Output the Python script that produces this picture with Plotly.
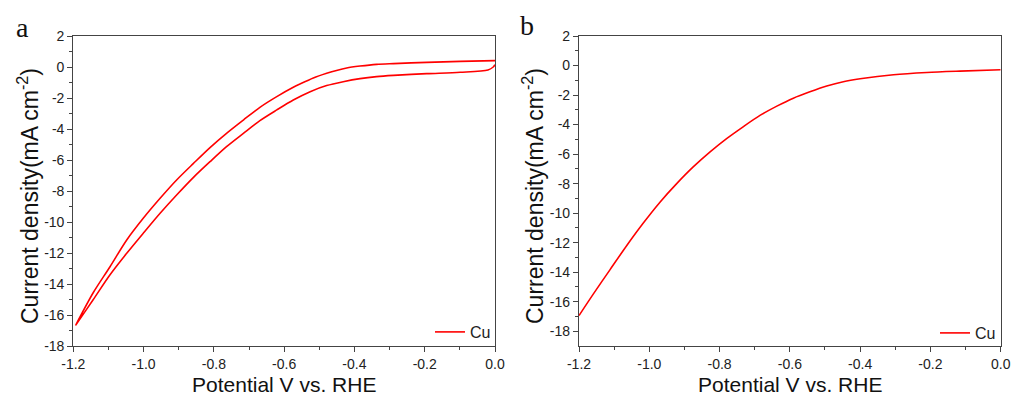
import plotly.graph_objects as go

# Panel a: cyclic voltammogram (cathodic sweep then return sweep)
pot_a_fwd = [0.0, -0.005, -0.02, -0.099, -0.194, -0.289, -0.337, -0.384, -0.432, -0.479,
             -0.526, -0.574, -0.621, -0.669, -0.716, -0.764, -0.811, -0.858, -0.906,
             -0.953, -1.001, -1.048, -1.096, -1.143, -1.193]
cur_a_fwd = [0.15, 0.0, -0.19, -0.34, -0.43, -0.54, -0.62, -0.75, -0.95, -1.20,
             -1.59, -2.13, -2.77, -3.46, -4.28, -5.14, -6.11, -7.12, -8.26,
             -9.44, -10.73, -12.02, -13.42, -15.0, -16.65]
pot_a_rev = [-1.193, -1.143, -1.096, -1.048, -1.001, -0.953, -0.906, -0.858, -0.811,
             -0.764, -0.716, -0.669, -0.621, -0.574, -0.555, -0.517, -0.479, -0.451,
             -0.422, -0.384, -0.337, -0.289, -0.194, -0.099, 0.0]
cur_a_rev = [-16.65, -14.55, -12.9, -11.16, -9.76, -8.47, -7.29, -6.22, -5.20,
             -4.28, -3.42, -2.60, -1.91, -1.31, -1.10, -0.71, -0.41, -0.22,
             -0.06, 0.06, 0.17, 0.22, 0.30, 0.36, 0.41]

# Panel b: linear sweep
pot_b = [-1.2, -1.159, -1.112, -1.064, -1.017, -0.969, -0.922, -0.875, -0.827, -0.780,
         -0.733, -0.685, -0.637, -0.590, -0.543, -0.495, -0.448, -0.400, -0.305,
         -0.210, -0.116, 0.0]
cur_b = [-16.94, -15.47, -13.84, -12.19, -10.67, -9.24, -8.00, -6.87, -5.85, -4.95,
         -4.15, -3.38, -2.75, -2.21, -1.78, -1.39, -1.10, -0.90, -0.62,
         -0.47, -0.38, -0.29]

x_ticks = [-1.2, -1.0, -0.8, -0.6, -0.4, -0.2, 0.0]
x_ticktext = ["-1.2", "-1.0", "-0.8", "-0.6", "-0.4", "-0.2", "0.0"]
x_minor = [-1.1, -0.9, -0.7, -0.5, -0.3, -0.1]
y_ticks = [2, 0, -2, -4, -6, -8, -10, -12, -14, -16, -18]
y_ticktext = ["2", "0", "-2", "-4", "-6", "-8", "-10", "-12", "-14", "-16", "-18"]
y_minor = [1, -1, -3, -5, -7, -9, -11, -13, -15, -17]
series_name = "Cu"

RED = "#ff0000"
AX = "#444444"
W, H = 1012, 396
TICKFONT = dict(family="Arial, Liberation Sans", size=14, color="#222")

fig = go.Figure()
fig.add_trace(go.Scatter(x=pot_a_fwd + pot_a_rev, y=cur_a_fwd + cur_a_rev, mode="lines",
                         line=dict(color=RED, width=1.6, shape="spline", smoothing=0.8),
                         name=series_name, showlegend=True,
                         xaxis="x", yaxis="y", legend="legend"))
fig.add_trace(go.Scatter(x=pot_b, y=cur_b, mode="lines",
                         line=dict(color=RED, width=1.6, shape="spline", smoothing=0.8),
                         name=series_name, showlegend=True,
                         xaxis="x2", yaxis="y2", legend="legend2"))

def xax(domain, anchor):
    return dict(domain=domain, anchor=anchor, range=[-1.2, 0.0], tickmode="array",
                tickvals=x_ticks, ticktext=x_ticktext, ticks="outside", ticklen=5,
                tickcolor=AX, showline=True, linecolor=AX, linewidth=1.2, mirror=True,
                showgrid=False, zeroline=False, automargin=False, tickfont=TICKFONT,
                minor=dict(tickvals=x_minor, ticks="outside", ticklen=3, tickcolor=AX,
                           showgrid=False))

def yax(domain, anchor, rng):
    return dict(domain=domain, anchor=anchor, range=rng, tickmode="array",
                tickvals=y_ticks, ticktext=y_ticktext, ticks="outside", ticklen=5,
                tickcolor=AX, showline=True, linecolor=AX, linewidth=1.2, mirror=True,
                showgrid=False, zeroline=False, automargin=False, tickfont=TICKFONT,
                minor=dict(tickvals=y_minor, ticks="outside", ticklen=3, tickcolor=AX,
                           showgrid=False))

ydom = [50 / H, 360 / H]
legfont = dict(family="Arial, Liberation Sans", size=16, color="#222")
fig.update_layout(
    width=W, height=H, margin=dict(l=0, r=0, t=0, b=0, autoexpand=False),
    paper_bgcolor="white", plot_bgcolor="white", showlegend=True,
    xaxis=xax([73.3 / W, 495 / W], "y"),
    yaxis=yax(ydom, "x", [-18, 2]),
    xaxis2=xax([579 / W, 1000.7 / W], "y2"),
    yaxis2=yax(ydom, "x2", [-19, 2]),
    legend=dict(x=430 / W, y=(H - 332) / H, xanchor="left", yanchor="middle",
                bgcolor="rgba(0,0,0,0)", font=legfont),
    legend2=dict(x=935 / W, y=(H - 333) / H, xanchor="left", yanchor="middle",
                 bgcolor="rgba(0,0,0,0)", font=legfont),
)

title_font = dict(family="Arial, Liberation Sans", size=21, color="#111")
ytitle_font = dict(family="Arial, Liberation Sans", size=23, color="#111")
annos = [
    dict(text="Potential V vs. RHE", x=284 / W, y=(H - 384) / H, xref="paper", yref="paper",
         showarrow=False, font=title_font, xanchor="center", yanchor="middle"),
    dict(text="Potential V vs. RHE", x=790 / W, y=(H - 384) / H, xref="paper", yref="paper",
         showarrow=False, font=title_font, xanchor="center", yanchor="middle"),
    dict(text="Current density(mA cm<sup>-2</sup>)", x=28 / W, y=(H - 196) / H, xref="paper",
         yref="paper", showarrow=False, font=ytitle_font, textangle=-90,
         xanchor="center", yanchor="middle"),
    dict(text="Current density(mA cm<sup>-2</sup>)", x=533 / W, y=(H - 196) / H, xref="paper",
         yref="paper", showarrow=False, font=ytitle_font, textangle=-90,
         xanchor="center", yanchor="middle"),
    dict(text="a", x=22 / W, y=(H - 27) / H, xref="paper", yref="paper", showarrow=False,
         font=dict(family="Liberation Serif, Times New Roman", size=28, color="#111"),
         xanchor="center", yanchor="middle"),
    dict(text="b", x=527 / W, y=(H - 25) / H, xref="paper", yref="paper", showarrow=False,
         font=dict(family="Liberation Serif, Times New Roman", size=28, color="#111"),
         xanchor="center", yanchor="middle"),
]
fig.update_layout(annotations=annos)

fig.write_html("out.html")
